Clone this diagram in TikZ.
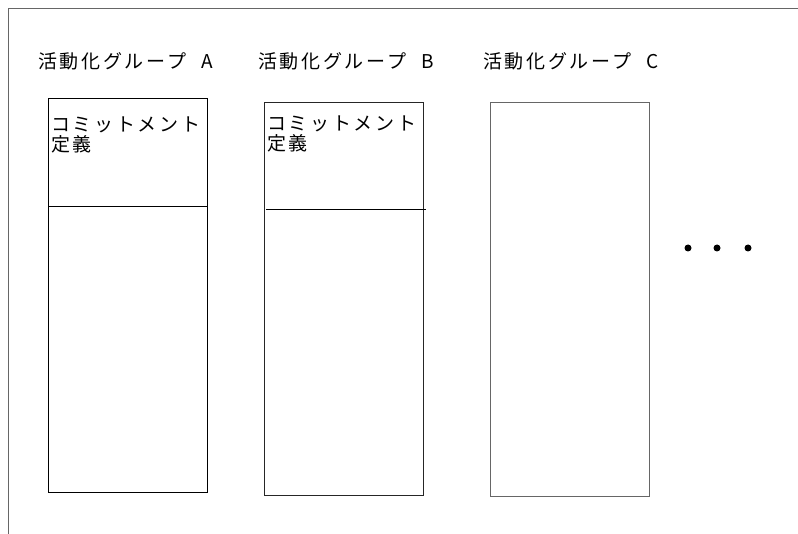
\documentclass[tikz,border=0pt]{standalone}
\usepackage{fontspec}
\newfontfamily\jp[LetterSpace=14]{Noto Sans CJK JP}
\tikzset{
  frame/.style={draw=black!60, line width=1pt},
  col/.style={draw, line width=1.1pt, minimum width=159pt, inner sep=0pt, anchor=north west},
  title/.style={anchor=west, inner sep=0pt, font=\jp\fontsize{19pt}{20pt}\selectfont},
  boxtext/.style={anchor=north west, inner sep=0pt, align=left, font=\jp\fontsize{19pt}{20pt}\selectfont},
  dot/.style={circle, fill=black, inner sep=0pt, minimum size=7pt}
}
\begin{document}
\begin{tikzpicture}[x=1pt,y=-1pt]
\useasboundingbox (0,0) rectangle (798,534);
% frame
\coordinate (fbl) at (8,534);
\coordinate (ftl) at (8,9);
\coordinate (ftr) at (798,9);
\draw[frame] (fbl) -- (ftl) -- (ftr);
% titles
\node[title] (tA) at (38,61) {活動化グループ\hspace{9pt} A};
\node[title] (tB) at (258,61) {活動化グループ\hspace{9pt} B};
\node[title] (tC) at (483,61) {活動化グループ\hspace{9pt} C};
% columns
\node[col, minimum height=394pt] (A) at (48,98) {};
\node[col, draw=black!85, minimum height=393pt] (B) at (264,102) {};
\node[col, draw=black!60, minimum height=394pt] (C) at (490,102) {};
% dividers
\coordinate (a1) at (48,207);
\coordinate (a2) at (208,207);
\draw[line width=1pt] (a1) -- (a2);
\coordinate (b1) at (266,210);
\coordinate (b2) at (426,210);
\draw[line width=1pt] (b1) -- (b2);
% box texts
\node[boxtext] (xA) at (51,117) {コミットメント\\定義};
\node[boxtext] (xB) at (267,116) {コミットメント\\定義};
% dots
\node[dot] (d1) at (688,248) {};
\node[dot] (d2) at (717,248) {};
\node[dot] (d3) at (748,248) {};
\end{tikzpicture}
\end{document}
